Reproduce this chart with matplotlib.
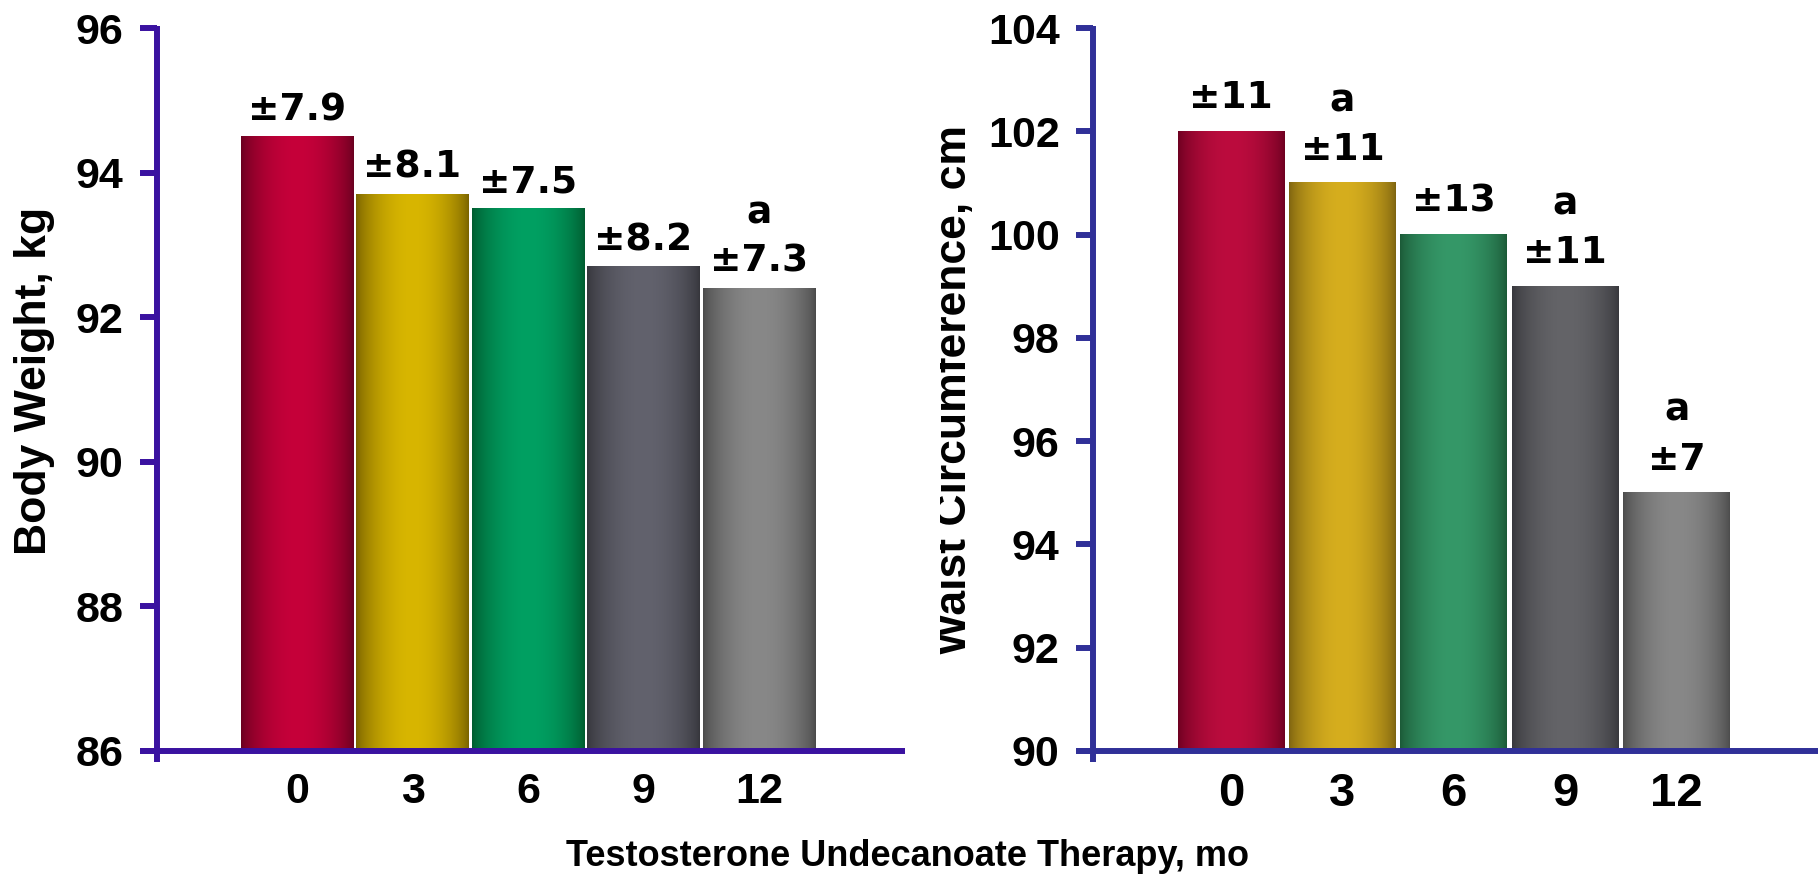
import numpy as np
import matplotlib
matplotlib.use("Agg")
import matplotlib.pyplot as plt
from matplotlib.colors import to_rgb
from matplotlib.transforms import Bbox, TransformedBbox

# -------------------------------------------------
# data
# -------------------------------------------------
months = ["0", "3", "6", "9", "12"]

body_weight = [94.5, 93.7, 93.5, 92.7, 92.4]
weight_sd = ["±7.9", "±8.1", "±7.5", "±8.2", "±7.3"]
weight_sig = ["", "", "", "", "a"]

waist = [102, 101, 100, 99, 95]
waist_sd = ["±11", "±11", "±13", "±11", "±7"]
waist_sig = ["", "a", "", "a", "a"]

# (edge, highlight) colours for the shaded bars
weight_colors = [("#68001f", "#c6003a"), ("#786100", "#d8b600"), ("#005a2e", "#00a062"),
                 ("#35353b", "#62626d"), ("#4a4a4a", "#888888")]
waist_colors = [("#6c0020", "#bc0c3e"), ("#7c6210", "#d6ae1e"), ("#1b5836", "#359868"),
                ("#37373c", "#646468"), ("#4b4b4b", "#888888")]

W, H = 1818, 876
plt.rcParams["font.family"] = ["Liberation Sans", "DejaVu Sans"]
plt.rcParams["font.weight"] = "bold"

fig = plt.figure(figsize=(W / 100, H / 100), dpi=100)


def px_axes(x0, x1, ytop, ybot):
    return fig.add_axes([x0 / W, 1 - ybot / H, (x1 - x0) / W, (ybot - ytop) / H])


def shaded(c_edge, c_mid, n=256):
    t = np.linspace(0, 1, n)
    p = np.sin(np.pi * t) ** 0.7
    e, m = np.array(to_rgb(c_edge)), np.array(to_rgb(c_mid))
    return (e + (m - e) * p[:, None])[None, :, :]


def panel(ax, values, sd, sig, colors, ylim, step, xlim, width, axis_color,
          label_off, ext_left):
    x = np.arange(len(values))
    base = ylim[0]
    bars = ax.bar(x, np.array(values) - base, bottom=base, width=width,
                  color="none", edgecolor="none")
    for b, (ce, cm) in zip(bars, colors):
        x0, y0 = b.get_x(), b.get_y()
        ax.imshow(shaded(ce, cm), extent=(x0, x0 + b.get_width(), y0, y0 + b.get_height()),
                  aspect="auto", interpolation="bilinear", zorder=2)

    for xi, v, s, a in zip(x, values, sd, sig):
        label = f"{a}\n{s}" if a else s
        ax.annotate(label, (xi, v), xytext=(0, label_off), textcoords="offset points",
                    ha="center", va="bottom", fontsize=27, fontweight="bold",
                    family="DejaVu Sans", linespacing=1.45, multialignment="center")

    ax.set_xlim(*xlim)
    ax.set_ylim(*ylim)
    ax.set_yticks(np.arange(ylim[0], ylim[1] + 1, step))
    ax.tick_params(axis="y", length=12, width=4.3, color=axis_color, pad=12, labelsize=31)
    ax.tick_params(axis="x", length=0, pad=15, labelsize=31)

    for sp in ax.spines.values():
        sp.set_visible(False)
    ax.plot([0, 0], [-0.015, 1.003], transform=ax.transAxes, color=axis_color, lw=4.3,
            clip_on=False, solid_capstyle="butt", zorder=5)
    ax.plot([ext_left, 1], [0, 0], transform=ax.transAxes, color=axis_color, lw=4.3,
            clip_on=False, solid_capstyle="butt", zorder=5)
    return x


# -------------------------------------------------
# left: body weight
# -------------------------------------------------
ax1 = px_axes(157, 905, 28, 751)
x1 = panel(ax1, body_weight, weight_sd, weight_sig, weight_colors, (86, 96), 2,
           (-1.212, 5.264), 0.97, "#3a12a0", 6, -0.0227)
ax1.set_xticks(x1, months)

# -------------------------------------------------
# right: waist circumference
# -------------------------------------------------
ax2 = px_axes(1093, 1818, 28, 751)
x2 = panel(ax2, waist, waist_sd, waist_sig, waist_colors, (90, 104), 2,
           (-1.24, 5.27), 0.96, "#303098", 11, -0.022)
ax2.set_xticks(x2, months, fontsize=34, family=["Liberation Sans Narrow", "Liberation Sans"])

# axis titles
fig.text(46 / W, 1 - 381 / H, "Body Weight, kg", rotation=90, rotation_mode="anchor",
         ha="center", va="baseline", fontsize=32, fontweight="bold")
wt = fig.text(966 / W, 1 - 390 / H, "Waist Circumference, cm", rotation=90,
              rotation_mode="anchor", ha="center", va="baseline", fontsize=32,
              fontweight="bold")
wt.set_clip_box(TransformedBbox(Bbox([[940 / W, 0], [1, 1]]), fig.transFigure))
wt.set_clip_on(True)

fig.text(908 / W, 1 - 866 / H, "Testosterone Undecanoate Therapy, mo", ha="center",
         va="baseline", fontsize=26, fontweight="bold")

fig.savefig("out.png", dpi=100)
